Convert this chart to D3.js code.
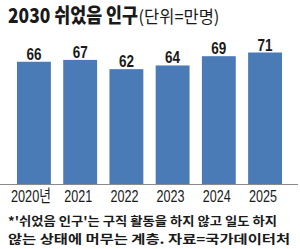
<!DOCTYPE html>
<html><head><meta charset="utf-8">
<script src="https://cdn.jsdelivr.net/npm/d3@7"></script>
<style>
html,body{margin:0;padding:0;background:#fff;}
svg{display:block;}
</style></head>
<body>
<script>
const categories = ["2020년","2021","2022","2023","2024","2025"];
const values = [66, 67, 62, 64, 69, 71];
const titleMain = "2030 쉬었음 인구";
const titleUnit = "(단위=만명)";
const noteLines = ["*'쉬었음 인구'는 구직 활동을 하지 않고 일도 하지", "않는 상태에 머무는 계층. 자료=국가데이터처"];

const W = 300, H = 249;
const svg = d3.select("body").append("svg").attr("width", W).attr("height", H);

const x = d3.scaleBand().domain(categories).range([17, 282]).paddingInner(0.267).paddingOuter(0);
const y = d3.scaleLinear().domain([0, 71]).range([184, 52.5]);

// helper: text squeezed horizontally to a given width via transform
function fitText(sel, tx, ty, width) {
  const len = sel.node().getComputedTextLength();
  sel.attr("transform", `translate(${tx},${ty}) scale(${width / len},1)`);
}

// title
const t1 = svg.append("text")
  .attr("font-family", "'Noto Sans CJK KR', 'Noto Sans', sans-serif").attr("font-weight", 900)
  .attr("font-size", 20).attr("fill", "#1a1a1a").text(titleMain);
fitText(t1, 8, 23, 130);
const t2 = svg.append("text")
  .attr("font-family", "'Noto Sans CJK KR', sans-serif").attr("font-weight", 400)
  .attr("font-size", 17).attr("fill", "#1a1a1a").text(titleUnit);
fitText(t2, 138.5, 23, 81);

// bars
svg.selectAll("rect.bar").data(values).join("rect").attr("class", "bar")
  .attr("x", (d, i) => x(categories[i]))
  .attr("width", x.bandwidth())
  .attr("y", d => y(d))
  .attr("height", d => y(0) - y(d))
  .attr("fill", "#4a7bb7");

// value labels
svg.selectAll("text.val").data(values).join("text").attr("class", "val")
  .attr("x", (d, i) => x(categories[i]) + x.bandwidth() / 2)
  .attr("y", d => y(d) - 2)
  .attr("text-anchor", "middle")
  .attr("font-family", "'Liberation Sans', 'Arial', sans-serif")
  .attr("font-weight", "bold").attr("font-size", 16).attr("fill", "#1a1a1a")
  .attr("textLength", 15).attr("lengthAdjust", "spacingAndGlyphs")
  .text(d => d);

// baseline
const axis = d3.axisBottom(x).tickSize(0).tickPadding(0);
const gx = svg.append("g").attr("transform", `translate(0,${y(0)})`).call(axis);
gx.select(".domain").attr("d", `M0,0.5H298`).attr("stroke", "#8a8a8a").attr("stroke-width", 1.2);
gx.selectAll(".tick text")
  .attr("y", 18).attr("dy", 0)
  .attr("dx", (d, i) => i === 0 ? -3 : -2)
  .attr("font-family", "'Liberation Sans', 'Noto Sans CJK KR', sans-serif")
  .attr("font-size", 16.5).attr("fill", "#1a1a1a")
  .attr("textLength", d => d.length > 4 ? 40 : 28).attr("lengthAdjust", "spacingAndGlyphs");

// footnote
const noteLen = [269, 282];
svg.selectAll("text.note").data(noteLines).join("text").attr("class", "note")
  .attr("x", 8).attr("y", (d, i) => 226 + i * 17.5)
  .attr("font-family", "'Noto Sans CJK KR', sans-serif").attr("font-weight", 700)
  .attr("font-size", 12.5).attr("fill", "#1a1a1a")
  .attr("textLength", (d, i) => noteLen[i]).attr("lengthAdjust", "spacingAndGlyphs")
  .text(d => d);
</script>
</body></html>
